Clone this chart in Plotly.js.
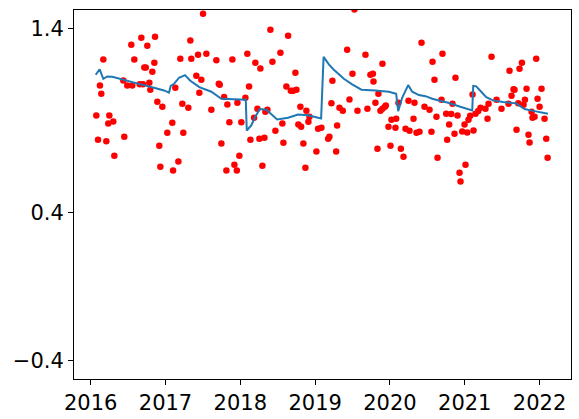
<!DOCTYPE html>
<html>
<head>
<meta charset="utf-8">
<script src="https://cdn.plot.ly/plotly-3.0.1.min.js"></script>
<style>html,body{margin:0;padding:0;background:#fff;}#chart{width:579px;height:419px;}</style>
</head>
<body>
<div id="chart"></div>
<script>
// Observations (decimal year, value)
const dotYears = [
2016.075,2016.098,2016.124,2016.142,2016.169,2016.209,2016.235,2016.249,2016.302,2016.316,
2016.436,2016.449,2016.489,2016.543,2016.556,2016.583,2016.655,2016.677,2016.699,2016.717,
2016.736,2016.757,2016.784,2016.797,2016.824,2016.851,2016.860,2016.891,2016.917,2016.931,
2016.958,2017.024,2017.091,2017.101,2017.131,2017.172,2017.198,2017.225,2017.238,2017.305,
2017.332,2017.345,2017.412,2017.435,2017.452,2017.479,2017.502,2017.546,2017.613,2017.680,
2017.712,2017.725,2017.747,2017.783,2017.814,2017.827,2017.854,2017.894,2017.921,2017.953,
2017.961,2017.987,2018.014,2018.068,2018.094,2018.117,2018.135,2018.184,2018.201,2018.228,
2018.255,2018.268,2018.295,2018.322,2018.335,2018.362,2018.402,2018.429,2018.469,2018.536,
2018.562,2018.576,2018.616,2018.639,2018.675,2018.706,2018.736,2018.750,2018.776,2018.803,
2018.813,2018.843,2018.870,2018.883,2018.910,2018.924,2019.017,2019.040,2019.084,2019.174,
2019.191,2019.218,2019.231,2019.281,2019.294,2019.325,2019.370,2019.428,2019.459,2019.499,
2019.525,2019.566,2019.673,2019.699,2019.739,2019.772,2019.780,2019.806,2019.833,2019.846,
2019.873,2019.900,2019.900,2019.932,2019.945,2019.980,2020.007,2020.020,2020.074,2020.083,
2020.114,2020.146,2020.181,2020.208,2020.248,2020.261,2020.315,2020.328,2020.355,2020.395,
2020.422,2020.462,2020.529,2020.555,2020.569,2020.595,2020.622,2020.636,2020.689,2020.702,
2020.752,2020.765,2020.792,2020.819,2020.836,2020.863,2020.876,2020.903,2020.930,2020.943,
2020.966,2020.997,2021.010,2021.033,2021.050,2021.073,2021.104,2021.117,2021.144,2021.180,
2021.211,2021.277,2021.304,2021.318,2021.358,2021.425,2021.491,2021.585,2021.598,2021.625,
2021.652,2021.665,2021.692,2021.715,2021.732,2021.764,2021.786,2021.804,2021.826,2021.852,
2021.866,2021.893,2021.906,2021.933,2021.955,2021.973,2022.000,2022.026,2022.066,2022.089,
2022.107
];
const dotValues = [
0.928,0.797,1.091,1.046,1.232,0.788,0.885,0.928,0.896,0.710,
1.118,0.813,1.091,1.312,1.091,1.232,1.097,1.350,1.097,1.189,
1.189,1.306,1.106,1.068,1.165,1.214,1.355,1.003,0.764,0.650,
0.976,0.835,0.889,0.630,1.079,0.679,1.236,0.992,0.835,0.970,
1.335,1.236,1.144,1.257,1.052,1.122,1.480,1.263,0.959,1.227,
1.100,1.095,0.777,1.028,0.630,0.988,0.891,1.232,0.661,0.630,
0.997,0.710,0.891,1.024,1.263,1.086,0.797,0.916,1.214,0.965,
0.802,1.183,0.656,0.808,0.949,0.959,1.393,1.220,0.846,1.268,
0.885,0.781,1.086,1.360,1.062,1.062,1.160,1.068,0.880,0.976,
0.867,0.777,0.645,0.954,0.894,0.921,0.733,0.856,0.862,0.802,
0.813,0.994,1.117,0.733,0.874,0.970,0.954,1.285,1.015,1.155,
1.503,0.954,1.257,0.965,1.149,1.155,1.113,0.997,0.748,1.046,
0.954,1.209,0.965,0.976,0.983,0.867,0.764,0.905,0.862,0.911,
0.997,0.748,0.705,0.856,1.008,0.846,0.911,0.997,0.835,0.840,
1.323,0.976,0.959,0.840,1.220,1.122,0.921,0.699,1.014,1.263,
0.938,0.797,0.880,0.936,0.992,0.829,1.133,0.928,0.618,0.571,
0.842,0.880,0.661,0.836,0.905,0.927,1.042,0.847,0.938,0.952,
0.970,0.965,0.911,0.992,1.247,1.014,0.965,0.992,1.171,1.035,
1.071,1.068,0.851,0.995,1.182,1.214,0.986,1.014,1.073,0.824,
0.782,0.949,0.916,0.921,1.236,1.019,0.976,1.073,0.911,0.802,
0.699
];
// Smoothed estimate
const lineYears = [
2016.067,2016.120,2016.169,2016.222,2016.289,2016.445,2016.669,2016.847,2016.980,2017.047,
2017.070,2017.114,2017.181,2017.261,2017.328,2017.452,2017.613,2017.747,2018.073,2018.086,
2018.148,2018.193,2018.260,2018.349,2018.492,2018.639,2018.772,2018.906,2019.080,2019.113,
2019.183,2019.250,2019.384,2019.495,2019.619,2019.806,2019.986,2020.083,2020.110,2020.163,
2020.244,2020.297,2020.387,2020.475,2020.565,2020.654,2020.779,2020.930,2021.100,2021.113,
2021.153,2021.220,2021.287,2021.377,2021.510,2021.688,2021.799,2021.933,2022.112
];
const lineValues = [
1.149,1.178,1.127,1.140,1.138,1.120,1.097,1.079,1.064,1.052,
1.089,1.100,1.133,1.147,1.118,1.082,1.057,1.019,1.014,0.847,
0.876,0.916,0.963,0.959,0.907,0.916,0.934,0.930,0.912,1.246,
1.205,1.176,1.127,1.097,1.068,1.064,1.057,1.046,0.952,1.024,
1.093,1.057,1.039,1.033,1.019,1.010,0.997,0.977,0.956,1.089,
1.086,1.057,1.028,1.010,1.001,0.994,0.963,0.952,0.938
];
const xTicks = [2016,2017,2018,2019,2020,2021,2022];
const xTickText = ['2016','2017','2018','2019','2020','2021','2022'];
const yTicks = [-0.4,0.4,1.4];
const yTickText = ['\u22120.4','0.4','1.4'];

const traces = [
  {x: dotYears, y: dotValues, type:'scatter', mode:'markers',
   marker:{color:'#ff0000', size:6.5}, hoverinfo:'skip'},
  {x: lineYears, y: lineValues, type:'scatter', mode:'lines',
   line:{color:'#1f77b4', width:2}, hoverinfo:'skip'}
];
const axisCommon = {
  showgrid:false, zeroline:false, showline:true, mirror:true,
  linecolor:'#000', linewidth:1, ticks:'outside', ticklen:5, tickwidth:1,
  tickcolor:'#000', tickfont:{family:'DejaVu Sans', size:21, color:'#000'}
};
const layout = {
  width:579, height:419,
  margin:{l:74, r:8, t:10, b:40, pad:0},
  paper_bgcolor:'#fff', plot_bgcolor:'#fff',
  showlegend:false,
  xaxis: Object.assign({}, axisCommon, {range:[2015.777, 2022.42], tickmode:'array',
    tickvals:xTicks, ticktext:xTickText}),
  yaxis: Object.assign({}, axisCommon, {range:[-0.5, 1.5], tickmode:'array',
    tickvals:yTicks, ticktext:yTickText})
};
Plotly.newPlot('chart', traces, layout, {displayModeBar:false, staticPlot:true});
</script>
</body>
</html>
